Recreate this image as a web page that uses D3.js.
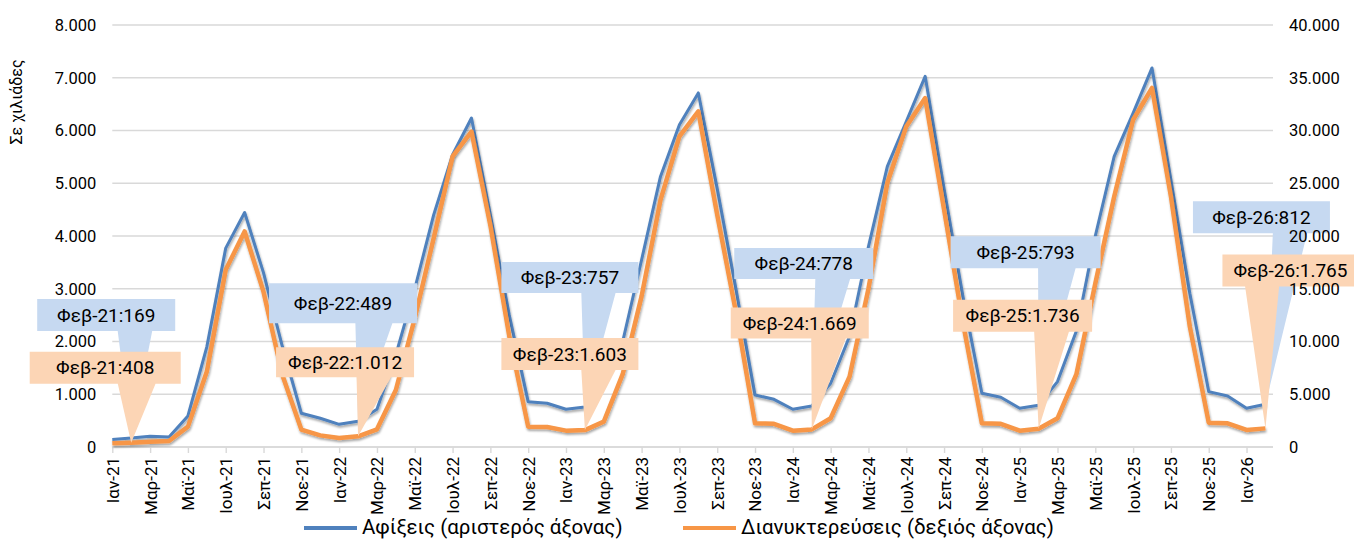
<!DOCTYPE html>
<html>
<head>
<meta charset="utf-8">
<script src="https://cdn.jsdelivr.net/npm/d3@7"></script>
<style>
  body { margin: 0; background: #fff; }
  text { font-family: Roboto, "Noto Sans", sans-serif; fill: #000; }
</style>
</head>
<body>
<svg id="chart" width="1354" height="540"></svg>
<script>
var monthNames = ['Ιαν', 'Φεβ', 'Μαρ', 'Απρ', 'Μαϊ', 'Ιουν', 'Ιουλ', 'Αυγ', 'Σεπ', 'Οκτ', 'Νοε', 'Δεκ'];
var years = ['21', '22', '23', '24', '25', '26'];

// Αφίξεις σε χιλιάδες (αριστερός άξονας), Ιαν-21 .. Φεβ-26
var arrivals = [
  140, 169, 205, 190, 590, 1900, 3770, 4446, 3300, 1900, 640, 545,
  430, 489, 715, 1750, 3000, 4400, 5540, 6237, 4400, 2500, 860, 829,
  715, 757, 1240, 2000, 3550, 5130, 6110, 6712, 4900, 2980, 987, 904,
  715, 778, 1208, 2100, 3800, 5320, 6170, 7027, 4900, 2852, 1019, 943,
  734, 793, 1240, 2200, 4000, 5509, 6330, 7186, 5066, 2916, 1050, 968,
  734, 812
];
// Διανυκτερεύσεις σε χιλιάδες (δεξιός άξονας)
var nights = [
  350, 408, 503, 570, 1930, 7150, 16790, 20430, 14700, 6800, 1650, 1100,
  850, 1012, 1677, 5400, 12200, 19800, 27540, 29900, 21000, 10500, 1930, 1900,
  1550, 1603, 2400, 6900, 14300, 23430, 29440, 31810, 22000, 12700, 2247, 2200,
  1550, 1669, 2720, 6670, 15000, 25040, 30390, 33080, 22500, 11760, 2247, 2200,
  1550, 1736, 2720, 6900, 15500, 23750, 31020, 34030, 23750, 11410, 2310, 2250,
  1613, 1765
];

var leftTicks = [0, 1000, 2000, 3000, 4000, 5000, 6000, 7000, 8000];
var rightTicks = [0, 5000, 10000, 15000, 20000, 25000, 30000, 35000, 40000];
var calloutIdx = [1, 13, 25, 37, 49, 61]; // τα Φεβ

var seriesNames = ['Αφίξεις (αριστερός άξονας)', 'Διανυκτερεύσεις (δεξιός άξονας)'];

// month labels
var months = [];
years.forEach(function (y) {
  monthNames.forEach(function (m) { months.push(m + '-' + y); });
});
months = months.slice(0, arrivals.length);

// callout box placement relative to its point (dx of box centre, dy of box top)
var blueBoxes = [
  { dx: -25, dy: -139, w: 138, h: 32 },
  { dx: -15, dy: -138, w: 148, h: 40 },
  { dx: -15, dy: -145, w: 137, h: 31 },
  { dx: -8, dy: -158, w: 139, h: 31 },
  { dx: -13, dy: -169, w: 150, h: 32 },
  { dx: -4, dy: -203, w: 137, h: 32 }
];
var orangeBoxes = [
  { dx: -26, dy: -91, w: 151, h: 32 },
  { dx: -13, dy: -89, w: 138, h: 30 },
  { dx: -15, dy: -92, w: 137, h: 32 },
  { dx: -12, dy: -122, w: 138, h: 31 },
  { dx: -16, dy: -129, w: 139, h: 32 },
  { dx: 25, dy: -174, w: 136, h: 32 }
];

var blue = '#4f81bd', orange = '#f79646';
var blueFill = '#c6d9f1', orangeFill = '#fcd5b5';

var fmt = d3.formatLocale({ decimal: ',', thousands: '.', grouping: [3], currency: ['', '€'] }).format(',');

var svg = d3.select('#chart');

var x = d3.scaleLinear().domain([0, arrivals.length - 0.6]).range([112.3, 1273]);
var yL = d3.scaleLinear().domain([0, 8000]).range([447, 25]);
var yR = d3.scaleLinear().domain([0, 40000]).range([447, 25]);

var defs = svg.append('defs');
var f = defs.append('filter').attr('id', 'shadow').attr('x', '-5%').attr('y', '-5%').attr('width', '110%').attr('height', '120%');
f.append('feDropShadow').attr('dx', 0.8).attr('dy', 2).attr('stdDeviation', 1.3)
  .attr('flood-color', '#000').attr('flood-opacity', 0.35);

// gridlines
svg.append('g').selectAll('line').data(leftTicks).join('line')
  .attr('x1', x.range()[0]).attr('x2', x.range()[1])
  .attr('y1', function (d) { return yL(d); }).attr('y2', function (d) { return yL(d); })
  .attr('stroke', '#d9d9d9').attr('stroke-width', 1.4);

// x axis
var tickIdx = d3.range(0, months.length, 2);
var gx = svg.append('g').attr('transform', 'translate(0,' + yL(0) + ')')
  .call(d3.axisBottom(x).tickValues(tickIdx).tickFormat(function (i) { return months[i]; }).tickSize(6).tickSizeOuter(0));
gx.select('.domain').attr('stroke', '#d9d9d9').attr('stroke-width', 1.4)
  .attr('d', 'M' + x.range()[0] + ',0H' + x.range()[1]);
gx.selectAll('.tick line').attr('stroke', '#d9d9d9').attr('stroke-width', 1.4);
gx.selectAll('.tick text')
  .style('font-size', '17px').style('font-family', 'Roboto, sans-serif').attr('fill', '#000')
  .attr('transform', 'rotate(-90)').attr('text-anchor', 'end')
  .attr('x', -10).attr('y', 0).attr('dy', '0.35em');

// y title
svg.append('text').attr('transform', 'translate(22,102) rotate(-90)')
  .attr('text-anchor', 'middle').style('font-size', '16px').text('Σε χιλιάδες');

// lines
var lineL = d3.line().x(function (d, i) { return x(i); }).y(function (d) { return yL(d); });
var lineR = d3.line().x(function (d, i) { return x(i); }).y(function (d) { return yR(d); });

svg.append('path').datum(arrivals).attr('d', lineL)
  .attr('fill', 'none').attr('stroke', blue).attr('stroke-width', 3).attr('stroke-linejoin', 'round')
  .attr('filter', 'url(#shadow)');
svg.append('path').datum(nights).attr('d', lineR)
  .attr('fill', 'none').attr('stroke', orange).attr('stroke-width', 4.5).attr('stroke-linejoin', 'round')
  .attr('filter', 'url(#shadow)');

// Excel style rectangular callouts with wedge
function callout(values, y, boxes, fill) {
  var g = svg.append('g');
  calloutIdx.forEach(function (idx, k) {
    var b = boxes[k];
    var px = x(idx), py = y(values[idx]);
    var cx = px + b.dx, left = cx - b.w / 2, right = cx + b.w / 2;
    var top = py + b.dy, bottom = top + b.h;
    var x1, x2;
    if (px - cx > 0) { x1 = left + b.w * 7 / 12; x2 = left + b.w * 10 / 12; }
    else { x1 = left + b.w * 2 / 12; x2 = left + b.w * 5 / 12; }
    var p = d3.path();
    p.moveTo(left, top); p.lineTo(right, top); p.lineTo(right, bottom);
    p.lineTo(x2, bottom); p.lineTo(px, py); p.lineTo(x1, bottom);
    p.lineTo(left, bottom); p.closePath();
    g.append('path').attr('d', p.toString()).attr('fill', fill);
    g.append('text').attr('x', cx).attr('y', top + b.h / 2).attr('dy', '0.35em')
      .attr('text-anchor', 'middle').style('font-size', '19px')
      .text(months[idx] + ':' + fmt(values[idx]));
  });
}
callout(arrivals, yL, blueBoxes, blueFill);
callout(nights, yR, orangeBoxes, orangeFill);

// value axes drawn last so the labels stay on top of the callouts
var gl = svg.append('g').attr('transform', 'translate(' + x.range()[0] + ',0)')
  .call(d3.axisLeft(yL).tickValues(leftTicks).tickFormat(fmt).tickSize(0).tickPadding(16));
gl.select('.domain').remove();
gl.selectAll('text').style('font-size', '16.5px').style('font-family', 'Roboto, sans-serif').attr('fill', '#000');

var gr = svg.append('g').attr('transform', 'translate(' + x.range()[1] + ',0)')
  .call(d3.axisRight(yR).tickValues(rightTicks).tickFormat(fmt).tickSize(0).tickPadding(16));
gr.select('.domain').remove();
gr.selectAll('text').style('font-size', '16.5px').style('font-family', 'Roboto, sans-serif').attr('fill', '#000');

// legend
var legend = svg.append('g');
var legItems = [
  { name: seriesNames[0], color: blue, x: 304 },
  { name: seriesNames[1], color: orange, x: 683 }
];
legItems.forEach(function (d) {
  legend.append('line').attr('x1', d.x).attr('x2', d.x + 53).attr('y1', 528).attr('y2', 528)
    .attr('stroke', d.color).attr('stroke-width', 4);
  legend.append('text').attr('x', d.x + 58).attr('y', 534)
    .style('font-size', '20.5px').text(d.name);
});
</script>
</body>
</html>
